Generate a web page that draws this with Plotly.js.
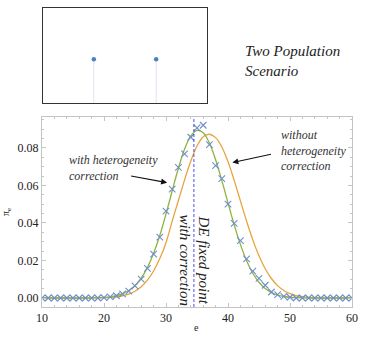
<!DOCTYPE html>
<html>
<head>
<meta charset="utf-8">
<script src="https://cdn.plot.ly/plotly-3.0.1.min.js"></script>
<style>
  html, body { margin: 0; padding: 0; background: #fff; }
  #chart { width: 366px; height: 340px; }
</style>
</head>
<body>
<div id="chart"></div>
<script>
// e values (integer steps)
const e_vals = [10,11,12,13,14,15,16,17,18,19,20,21,22,23,24,25,26,27,28,29,30,31,32,33,34,35,
  36,37,38,39,40,41,42,43,44,45,46,47,48,49,50,51,52,53,54,55,56,57,58,59,60];

// simulation (blue crosses)
const sim_pi = [0,0,0,0,0,0,0,0,0,0,0.0002,0.0006,0.0012,0.0022,0.0037,0.0065,0.0101,0.0158,0.0234,0.0324,
  0.0463,0.058,0.0696,0.0768,0.0857,0.0907,0.0921,0.0818,0.0706,0.0636,0.0501,0.0398,0.0306,0.0208,0.0143,
  0.0105,0.0068,0.0032,0.0018,0.0009,0.0004,0,0,0,0,0,0,0,0,0,0];

// with heterogeneity correction (green)
const with_corr = [0,0,0,0,0,0,0,0,0.0001,0.0002,0.0003,0.0006,0.0012,0.0023,0.004,0.0067,0.0106,0.0162,0.0238,0.0333,
  0.0448,0.0572,0.0692,0.0794,0.0864,0.0894,0.0881,0.0826,0.0737,0.0627,0.0507,0.039,0.0286,0.0199,0.0132,
  0.0084,0.005,0.0029,0.0016,0.0008,0.0004,0.0002,0.0001,0,0,0,0,0,0,0,0];

// without heterogeneity correction (orange)
const without_corr = [0,0,0,0,0,0,0,0,0,0.0001,0.00015,0.0003,0.0006,0.0012,0.0021,0.0036,0.006,0.0095,0.0144,0.021,
  0.0295,0.041,0.052,0.063,0.073,0.081,0.086,0.0873,0.0855,0.0805,0.0727,0.0627,0.0518,0.041,0.031,
  0.0225,0.0156,0.0104,0.0066,0.004,0.0023,0.0013,0.0007,0.0003,0.0001,0,0,0,0,0,0];

const de_fixed_point = 34.5;

// inset: two populations
const inset_x = [0.31, 0.69];
const inset_y = [0.46, 0.46];

const serif = 'Liberation Serif';

// stems for the inset
const stem_x = [], stem_y = [];
inset_x.forEach((x, i) => { stem_x.push(x, x, null); stem_y.push(0, inset_y[i], null); });

const traces = [
  {x: e_vals, y: without_corr, type: 'scatter', mode: 'lines', line: {color: '#e8a33a', width: 1.3, shape: 'spline'}, hoverinfo: 'skip'},
  {x: e_vals, y: with_corr, type: 'scatter', mode: 'lines', line: {color: '#8db43d', width: 1.3, shape: 'spline'}, hoverinfo: 'skip'},
  {x: e_vals, y: sim_pi, type: 'scatter', mode: 'markers',
   marker: {symbol: 'x-thin-open', size: 6.5, color: '#6f8fc8', line: {width: 1.1, color: '#6f8fc8'}}},
  {x: [de_fixed_point, de_fixed_point], y: [-0.0048, 0.0965], type: 'scatter', mode: 'lines',
   line: {color: '#3a3af0', width: 0.9, dash: '3px,2px'}},
  {x: stem_x, y: stem_y, xaxis: 'x2', yaxis: 'y2', type: 'scatter', mode: 'lines',
   line: {color: '#e2e2f2', width: 1}},
  {x: inset_x, y: inset_y, xaxis: 'x2', yaxis: 'y2', type: 'scatter', mode: 'markers',
   marker: {color: '#4f7fc0', size: 4.5}}
];

const layout = {
  width: 366, height: 340,
  margin: {l: 0, r: 0, t: 0, b: 0},
  paper_bgcolor: '#fff', plot_bgcolor: '#fff',
  showlegend: false,
  font: {family: serif, size: 11, color: '#222'},
  xaxis: {
    domain: [42/366, 352/366], anchor: 'y',
    range: [10, 60], dtick: 10, tick0: 10,
    showgrid: false, zeroline: false,
    showline: true, mirror: 'ticks', linecolor: '#c4c4c4', linewidth: 1,
    ticks: 'inside', ticklen: 4, tickcolor: '#c4c4c4',
    minor: {dtick: 2, ticks: 'inside', ticklen: 2, tickcolor: '#c4c4c4'},
    tickfont: {family: serif, size: 12, color: '#222'}
  },
  yaxis: {
    domain: [33/340, 223/340], anchor: 'x',
    range: [-0.0048, 0.0965], dtick: 0.02, tick0: 0, tickformat: '.2f',
    showgrid: false, zeroline: false,
    showline: true, mirror: 'ticks', linecolor: '#c4c4c4', linewidth: 1,
    ticks: 'inside', ticklen: 4, tickcolor: '#c4c4c4',
    minor: {dtick: 0.005, ticks: 'inside', ticklen: 2, tickcolor: '#c4c4c4'},
    tickfont: {family: serif, size: 12, color: '#222'},
    title: {text: 'π<sub>e</sub>', font: {family: serif, size: 10, color: '#222'}, standoff: 6}
  },
  xaxis2: {
    domain: [43/366, 207/366], anchor: 'y2', range: [0, 1],
    showgrid: false, zeroline: false, showticklabels: false, ticks: '',
    showline: true, mirror: true, linecolor: '#333', linewidth: 1.3
  },
  yaxis2: {
    domain: [237/340, 332/340], anchor: 'x2', range: [0, 1],
    showgrid: false, zeroline: false, showticklabels: false, ticks: '',
    showline: true, mirror: true, linecolor: '#333', linewidth: 1.3
  },
  annotations: [
    // x-axis title
    {x: 196/366, y: (340-327)/340, xref: 'paper', yref: 'paper', xanchor: 'center', yanchor: 'middle',
     text: 'e', showarrow: false, font: {family: serif, size: 10, color: '#222'}},
    {x: 14.05, y: 0.0693, xref: 'x', yref: 'y', xanchor: 'left', yanchor: 'middle', align: 'left',
     text: '<i>with heterogeneity<br>correction</i>', showarrow: false,
     font: {family: serif, size: 12, color: '#333'}},
    {x: 30.18, y: 0.0615, ax: 24.13, ay: 0.0652, xref: 'x', yref: 'y', axref: 'x', ayref: 'y',
     text: '', showarrow: true, arrowhead: 2, arrowsize: 1, arrowwidth: 1.2, arrowcolor: '#111'},
    {x: 48.2, y: 0.0789, xref: 'x', yref: 'y', xanchor: 'left', yanchor: 'middle', align: 'left',
     text: '<i>without<br>heterogeneity<br>correction</i>', showarrow: false,
     font: {family: serif, size: 12, color: '#333'}},
    {x: 40.7, y: 0.0722, ax: 47.17, ay: 0.0768, xref: 'x', yref: 'y', axref: 'x', ayref: 'y',
     text: '', showarrow: true, arrowhead: 2, arrowsize: 1, arrowwidth: 1.2, arrowcolor: '#111'},
    {x: 34.6, y: 0.0203, xref: 'x', yref: 'y', xanchor: 'center', yanchor: 'middle',
     text: '<i>DE fixed point<br>with correction</i>', textangle: 90, showarrow: false,
     font: {family: serif, size: 15, color: '#222'}},
    {x: 243/366, y: (340-61)/340, xref: 'paper', yref: 'paper', xanchor: 'left', yanchor: 'middle', align: 'left',
     text: '<i>Two Population<br>Scenario</i>', showarrow: false,
     font: {family: serif, size: 15, color: '#222'}}
  ]
};

Plotly.newPlot('chart', traces, layout, {staticPlot: true, displayModeBar: false});
</script>
</body>
</html>
